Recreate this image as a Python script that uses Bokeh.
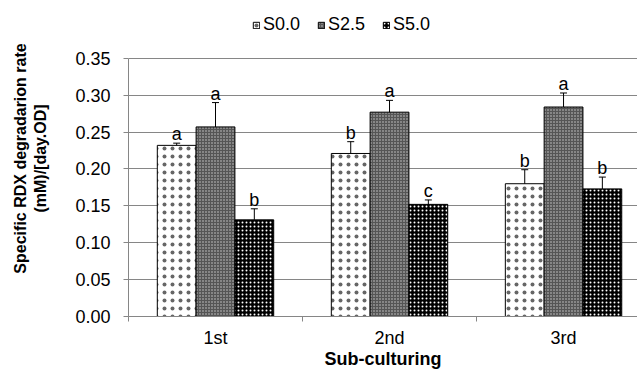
from bokeh.plotting import figure
from bokeh.models import (ColumnDataSource, Range1d, FixedTicker, Whisker, TeeHead,
                          Legend, LegendItem, NumeralTickFormatter)
from bokeh.core.properties import value
from bokeh.embed import file_html
from bokeh.resources import INLINE

# ---- data ----
categories = ["1st", "2nd", "3rd"]
series = ["S0.0", "S2.5", "S5.0"]
s00 = [0.232, 0.221, 0.180]
s25 = [0.257, 0.277, 0.284]
s50 = [0.131, 0.152, 0.173]
err00 = [0.003, 0.016, 0.019]
err25 = [0.033, 0.016, 0.019]
err50 = [0.015, 0.006, 0.016]
let00 = ["a", "b", "b"]
let25 = ["a", "a", "a"]
let50 = ["b", "c", "b"]
y_ticks = [0.0, 0.05, 0.10, 0.15, 0.20, 0.25, 0.30, 0.35]

FONT = "Liberation Sans"
GRID = "#868686"

# frame spans the full height above the x axis; the value axis itself is
# bounded to 0..0.35 so the legend can sit in the empty band on top
Y_MAX = y_ticks[-1]
Y_END = Y_MAX * 317 / (317 - 58)

p = figure(width=637, height=371, output_backend="svg", toolbar_location=None,
           title=None,
           x_range=Range1d(0, 2.925), y_range=Range1d(0, Y_END),
           min_border_left=128, min_border_right=0, min_border_top=0,
           min_border_bottom=54)
p.outline_line_color = None
p.xgrid.grid_line_color = None
p.ygrid.grid_line_color = GRID
p.ygrid.grid_line_width = 1

styles = [
    dict(fill_color="white", hatch_pattern="dot", hatch_color="black", hatch_scale=8,
         hatch_weight=0.3, hatch_alpha=0.6),
    dict(fill_color="#555555", hatch_pattern="dot", hatch_color="#d0d0d0", hatch_scale=3, hatch_weight=1),
    dict(fill_color="black", hatch_pattern="dot", hatch_color="white", hatch_scale=4, hatch_weight=1.2),
]
offsets = [-0.223, 0.0, 0.223]
width = 0.223

renderers = []
for vals, errs, lets, off, st in zip([s00, s25, s50], [err00, err25, err50],
                                     [let00, let25, let50], offsets, styles):
    xs = [i + 0.5 + off for i in range(len(categories))]
    src = ColumnDataSource(dict(
        x=xs, top=vals,
        upper=[v + e for v, e in zip(vals, errs)],
        lower=[v - e for v, e in zip(vals, errs)],
        letter=lets,
    ))
    r = p.vbar(x="x", top="top", width=width, source=src, line_color="black",
               line_width=1, **st)
    renderers.append(r)
    w = Whisker(source=src, base="x", upper="upper", lower="lower",
                line_color="black", line_width=1,
                upper_head=TeeHead(size=7, line_color="black", line_width=1),
                lower_head=TeeHead(size=7, line_color="black", line_width=1))
    p.add_layout(w)
    p.text(x="x", y="upper", text="letter", source=src, y_offset=-9,
           text_align="center", text_baseline="alphabetic",
           text_font=value(FONT), text_font_size="18px", text_color="black")

# y axis
ya = p.yaxis[0]
ya.bounds = (0, Y_MAX)
ya.ticker = FixedTicker(ticks=y_ticks)
ya.formatter = NumeralTickFormatter(format="0.00")
ya.axis_line_color = GRID
ya.major_tick_line_color = GRID
ya.major_tick_out = 5
ya.major_tick_in = 0
ya.minor_tick_line_color = None
ya.major_label_text_font = FONT
ya.major_label_text_font_size = "18px"
ya.major_label_text_color = "black"
ya.major_label_standoff = 13
ya.axis_label = "Specific RDX degradarion rate\n(mM)/[day.OD]"
ya.axis_label_text_font = FONT
ya.axis_label_text_font_size = "16px"
ya.axis_label_text_font_style = "bold"
ya.axis_label_text_color = "black"
ya.axis_label_standoff = 23

# x axis
xa = p.xaxis[0]
xa.ticker = FixedTicker(ticks=[i + 0.5 for i in range(len(categories))],
                        minor_ticks=[float(i) for i in range(len(categories))])
xa.major_label_overrides = {i + 0.5: c for i, c in enumerate(categories)}
xa.axis_line_color = GRID
xa.major_tick_line_color = None
xa.major_tick_out = 0
xa.major_tick_in = 0
xa.minor_tick_line_color = GRID
xa.minor_tick_out = 5
xa.minor_tick_in = 0
xa.major_label_text_font = FONT
xa.major_label_text_font_size = "18px"
xa.major_label_text_color = "black"
xa.major_label_standoff = 6
xa.axis_label = "Sub-culturing"
xa.axis_label_text_font = FONT
xa.axis_label_text_font_size = "18px"
xa.axis_label_text_font_style = "bold"
xa.axis_label_text_color = "black"
xa.axis_label_standoff = -2

legend = Legend(items=[LegendItem(label=s, renderers=[r]) for s, r in zip(series, renderers)],
                orientation="horizontal", location=(124, 281),
                glyph_width=8, glyph_height=8, label_standoff=3, spacing=17,
                padding=0, margin=0, border_line_color=None,
                background_fill_alpha=0,
                label_text_font=FONT, label_text_font_size="18px",
                label_text_color="black", label_height=20)
p.add_layout(legend, "center")

open("out.html", "w").write(file_html(p, INLINE))
